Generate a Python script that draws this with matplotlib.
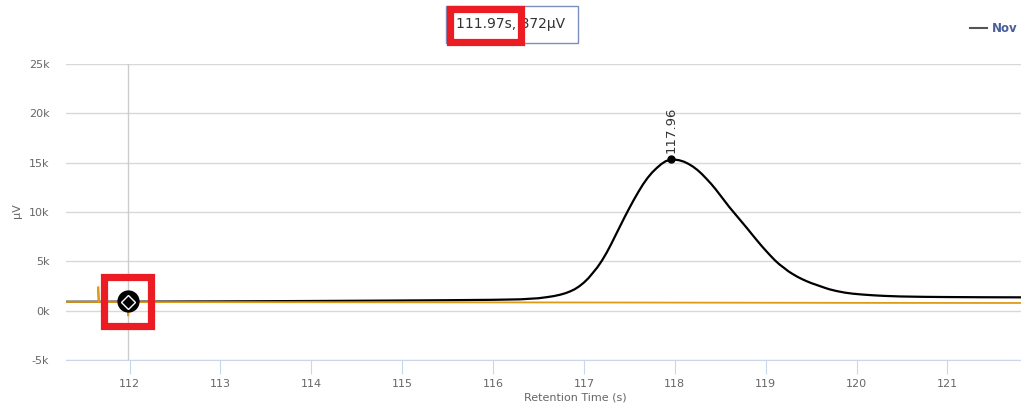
import matplotlib
matplotlib.use("Agg")
import matplotlib.pyplot as plt
from matplotlib.patches import Rectangle

# black trace (retention time s, signal uV)
black_time = [111.30, 111.6, 112.0, 113.0, 114.0, 115.0, 115.5, 116.0, 116.3, 116.5,
              116.6, 116.67, 116.74, 116.8, 116.85, 116.9, 116.95,
              117.00, 117.05, 117.10, 117.15, 117.20, 117.25, 117.30, 117.35, 117.40, 117.45,
              117.50, 117.55, 117.60, 117.65, 117.70, 117.75, 117.80, 117.85, 117.90, 117.96,
              118.00, 118.05, 118.10, 118.15, 118.20, 118.25, 118.30, 118.35, 118.40, 118.45,
              118.50, 118.55, 118.60, 118.65, 118.70, 118.75, 118.80, 118.85, 118.90, 118.95,
              119.00, 119.05, 119.10, 119.15, 119.20, 119.25, 119.30, 119.35, 119.40, 119.45,
              119.50, 119.56, 119.60, 119.65, 119.70, 119.78, 119.87, 119.96, 120.07, 120.18,
              120.30, 120.48, 120.75, 121.0, 121.4, 121.81]
black_signal = [900, 905, 910, 940, 980, 1030, 1060, 1100, 1150, 1260,
                1380, 1480, 1620, 1780, 1960, 2180, 2480,
                2850, 3300, 3850, 4420, 5100, 5880, 6750, 7680, 8600, 9520,
                10400, 11250, 12050, 12800, 13450, 14000, 14450, 14850, 15150, 15330,
                15310, 15240, 15100, 14880, 14600, 14250, 13830, 13350, 12850, 12300,
                11700, 11100, 10500, 9950, 9400, 8850, 8300, 7730, 7170, 6620,
                6100, 5600, 5120, 4700, 4350, 3990, 3700, 3430, 3200, 2990,
                2800, 2610, 2480, 2320, 2170, 1990, 1830, 1720, 1630, 1560,
                1500, 1440, 1400, 1380, 1360, 1350]

# orange trace
orange_time = [111.30, 111.655, 111.655, 111.665, 111.96, 111.985, 111.985, 111.99, 114.0, 117.0, 120.0, 121.81]
orange_signal = [880, 880, 2400, 880, 872, 872, -500, 872, 860, 830, 790, 780]

peak_time = 117.96
peak_signal = 15330
hover_time = 111.97
hover_signal = 872
x_ticks = [112, 113, 114, 115, 116, 117, 118, 119, 120, 121]
y_ticks = [-5000, 0, 5000, 10000, 15000, 20000, 25000]
y_labels = ["-5k", "0k", "5k", "10k", "15k", "20k", "25k"]


def createPlot():
    fig = plt.figure(figsize=(10.21, 4.08), dpi=100)
    ax = fig.add_axes([66 / 1021, 48 / 408, 1 - 66 / 1021, 296 / 408])
    ax.set_xlim(111.30, 121.81)
    ax.set_ylim(-5000, 25000)

    for s in ["top", "left", "right"]:
        ax.spines[s].set_visible(False)
    ax.spines["bottom"].set_color("#ccd6eb")
    ax.set_yticks(y_ticks)
    ax.set_yticklabels(y_labels)
    ax.set_xticks(x_ticks)
    ax.tick_params(axis="y", length=0, pad=12, labelsize=8, labelcolor="#666666")
    ax.tick_params(axis="x", length=10, color="#ccd6eb", pad=4, labelsize=8, labelcolor="#666666")
    ax.yaxis.grid(True, color="#d8d8d8", linewidth=1)
    ax.set_axisbelow(True)

    # crosshair
    ax.axvline(hover_time + 0.015, color="#cccccc", linewidth=1, zorder=1)

    ax.plot(black_time, black_signal, color="black", linewidth=1.6, zorder=3)
    ax.plot(orange_time, orange_signal, color="#e09a1a", linewidth=1.3, zorder=4)

    ax.plot([peak_time], [peak_signal], "o", color="black", markersize=5, zorder=5)
    ax.text(peak_time, peak_signal + 700, "117.96", rotation=90, ha="center", va="bottom",
            fontsize=9.5, color="#333333")

    ax.plot([hover_time + 0.015], [hover_signal + 80], "o", color="black", markersize=15, zorder=6)
    ax.plot([hover_time + 0.015], [hover_signal], "D", markerfacecolor="none", markeredgecolor="white",
            markersize=7, markeredgewidth=1, zorder=7)

    fig.text(17 / 1021, 1 - 211 / 408, "µV", rotation=90, ha="center", va="center",
             fontsize=8, color="#666666")
    fig.text(575 / 1021, 1 - 398 / 408, "Retention Time (s)", ha="center", va="center",
             fontsize=8, color="#666666")

    # tooltip
    fig.patches.append(Rectangle((446 / 1021, 1 - 43 / 408), 132 / 1021, 37 / 408,
                                 transform=fig.transFigure, facecolor="white",
                                 edgecolor="#7b8fbf", linewidth=1))
    fig.text(511 / 1021, 1 - 24 / 408, "111.97s, 872µV", ha="center", va="center",
             fontsize=10, color="#333333")

    # legend (cut off at right edge in the original)
    fig.add_artist(plt.Line2D([970 / 1021, 987 / 1021], [1 - 28 / 408, 1 - 28 / 408],
                              transform=fig.transFigure, color="#555555", linewidth=1.5))
    fig.text(992 / 1021, 1 - 28 / 408, "Nov", ha="left", va="center", fontsize=8.5,
             fontweight="bold", color="#4a5f9a")

    # red highlight boxes
    fig.patches.append(Rectangle((449.5 / 1021, 1 - 41.5 / 408), 71 / 1021, 32 / 408,
                                 transform=fig.transFigure, facecolor="none",
                                 edgecolor="#ec1c24", linewidth=5.2, zorder=10))
    fig.patches.append(Rectangle((104 / 1021, 1 - 325.5 / 408), 47 / 1021, 49 / 408,
                                 transform=fig.transFigure, facecolor="none",
                                 edgecolor="#ec1c24", linewidth=5.2, zorder=10))

    fig.savefig("out.png", dpi=100)


def main():
    createPlot()


if __name__ == "__main__":
    main()
